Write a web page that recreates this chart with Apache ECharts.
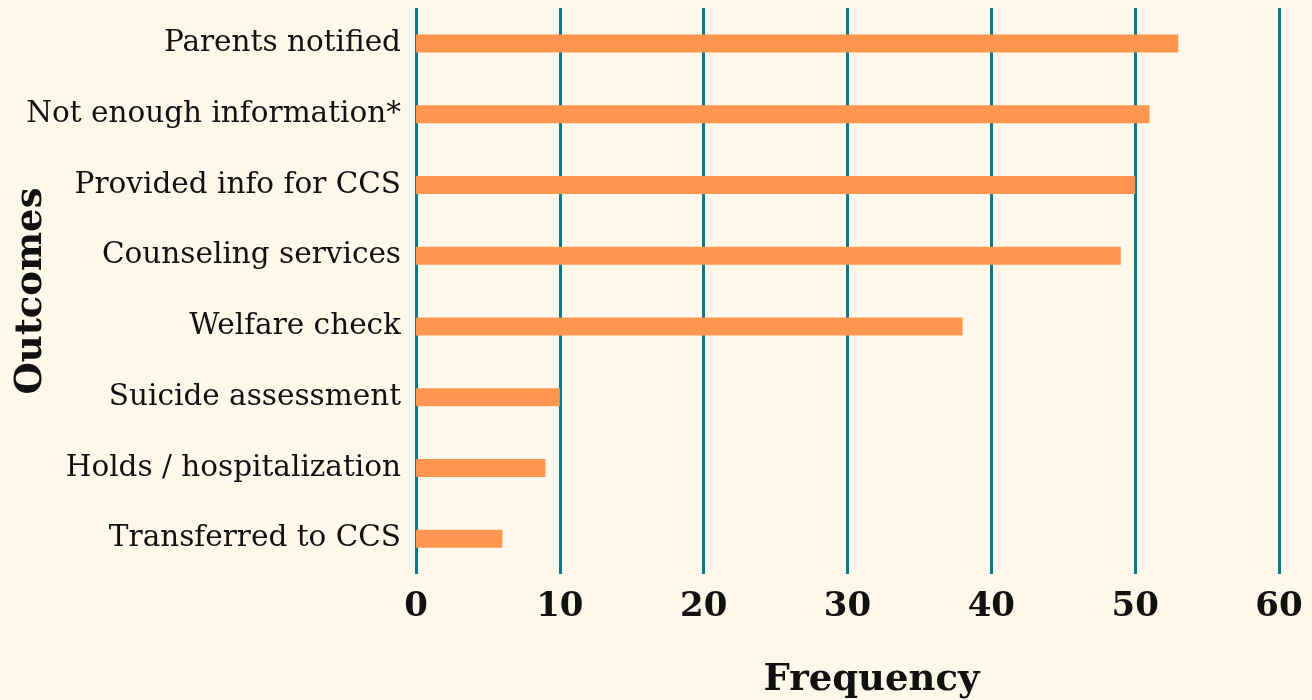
<!DOCTYPE html>
<html>
<head>
<meta charset="utf-8">
<title>Outcomes by frequency</title>
<script src="https://cdn.jsdelivr.net/npm/echarts@6/dist/echarts.min.js"></script>
<style>
  html, body { margin: 0; padding: 0; background: #fef8ea; }
  #chart { width: 1312px; height: 700px; }
</style>
</head>
<body>
<div id="chart"></div>
<script>
const outcomes = [
  'Parents notified',
  'Not enough information*',
  'Provided info for CCS',
  'Counseling services',
  'Welfare check',
  'Suicide assessment',
  'Holds / hospitalization',
  'Transferred to CCS'
]
const frequency = [53, 51, 50, 49, 38, 10, 9, 6]
const freqTicks = [0, 10, 20, 30, 40, 50, 60]

const serif = "'DejaVu Serif', 'Liberation Serif', serif"
const teal = '#007b8a'

const chart = echarts.init(document.getElementById('chart'))

chart.setOption({
  backgroundColor: '#fef8ea',
  animation: false,
  grid: {
    left: 416, right: 33, top: 8, bottom: 126,
    outerBoundsMode: 'none',
    containLabel: false
  },
  xAxis: {
    type: 'value',
    min: freqTicks[0],
    max: freqTicks[freqTicks.length - 1],
    interval: freqTicks[1] - freqTicks[0],
    name: 'Frequency',
    nameLocation: 'middle',
    nameGap: 88,
    nameMoveOverlap: false,
    nameTextStyle: {
      fontFamily: serif,
      fontWeight: 'bold',
      fontSize: 37,
      color: '#111',
      padding: [0, 0, 0, 48]
    },
    axisLine: { show: false },
    axisTick: { show: false },
    axisLabel: {
      margin: 16,
      fontFamily: serif,
      fontWeight: 'bold',
      fontSize: 34,
      color: '#111'
    },
    splitLine: { show: true, lineStyle: { color: teal, width: 3 } }
  },
  yAxis: {
    type: 'category',
    data: outcomes,
    inverse: true,
    name: 'Outcomes',
    nameLocation: 'middle',
    nameGap: 366,
    nameMoveOverlap: false,
    nameTextStyle: {
      fontFamily: serif,
      fontWeight: 'bold',
      fontSize: 37,
      color: '#111'
    },
    axisLine: { show: false },
    axisTick: { show: false },
    axisLabel: {
      margin: 15,
      fontFamily: serif,
      fontSize: 29.5,
      color: '#111'
    }
  },
  series: [
    {
      type: 'bar',
      data: frequency,
      barWidth: 18,
      itemStyle: { color: '#ff9650' }
    }
  ]
})
</script>
</body>
</html>
